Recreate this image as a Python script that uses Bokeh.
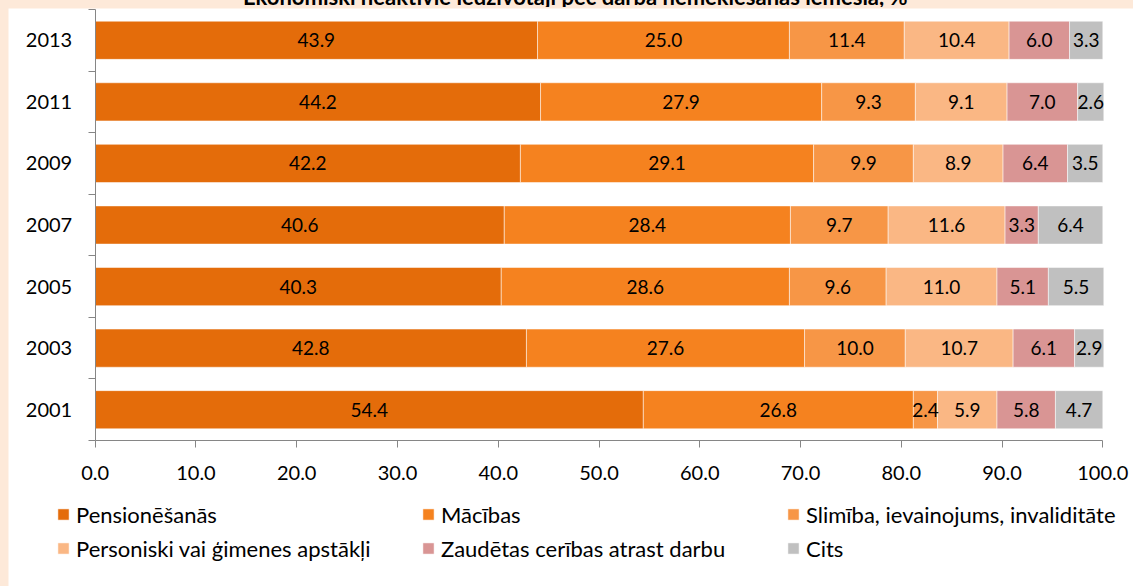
import numpy as np
from bokeh.plotting import figure
from bokeh.models import (ColumnDataSource, FixedTicker, Legend, LegendItem,
                          Range1d)
from bokeh.core.properties import value
from bokeh.embed import file_html
from bokeh.resources import INLINE

# ---- data ----
years = ["2001", "2003", "2005", "2007", "2009", "2011", "2013"]
pension = [54.4, 42.8, 40.3, 40.6, 42.2, 44.2, 43.9]
study = [26.8, 27.6, 28.6, 28.4, 29.1, 27.9, 25.0]
illness = [2.4, 10.0, 9.6, 9.7, 9.9, 9.3, 11.4]
personal = [5.9, 10.7, 11.0, 11.6, 8.9, 9.1, 10.4]
discouraged = [5.8, 6.1, 5.1, 3.3, 6.4, 7.0, 6.0]
other = [4.7, 2.9, 5.5, 6.4, 3.5, 2.6, 3.3]

series_names = ["Pensionēšanās", "Mācības", "Slimība, ievainojums, invaliditāte",
                "Personiski vai ģimenes apstākļi", "Zaudētas cerības atrast darbu", "Cits"]
series_values = [pension, study, illness, personal, discouraged, other]
colors = ["#E46C0A", "#F5821F", "#F79646", "#FAB784", "#D99594", "#C0C0C0"]
x_ticks = [0, 10, 20, 30, 40, 50, 60, 70, 80, 90, 100]
title_text = "Ekonomiski neaktīvie iedzīvotāji pēc darba nemeklēšanas iemesla, %"

FONT = "Lato"
FS_AX = "20px"
FS_BAR = "19px"
FS_LEG = "22px"

W, H = 1125, 578
# frame geometry (figure pixels): value 0..100 spans 86.7..1094.3, rows span 1..432
PX0, PX1 = 86.7, 1094.3
PY_TOP, PY_BOT = 1.0, 432.0
n = len(years)
sx = (PX1 - PX0) / 100.0
sy = (PY_BOT - PY_TOP) / n

ypos = [i + 0.5 for i in range(n)]
keys = [f"s{i}" for i in range(len(series_names))]
data = {"y": ypos, "year": years}
for k, v in zip(keys, series_values):
    data[k] = v
source = ColumnDataSource(data)

p = figure(width=W, height=H, output_backend="svg", toolbar_location=None,
           x_range=Range1d(-PX0 / sx, 100 + (W - PX1) / sx),
           y_range=Range1d(-(H - PY_BOT) / sy, n + PY_TOP / sy),
           min_border=0)
p.background_fill_color = "white"
p.border_fill_color = "white"
p.outline_line_color = None
p.grid.visible = False

renderers = p.hbar_stack(keys, y="y", height=0.62, color=colors, source=source,
                         line_color="white", line_alpha=0.5, line_width=1)

# bar value labels
arr = np.array(series_values)
starts = np.vstack([np.zeros(arr.shape[1]), np.cumsum(arr, axis=0)[:-1]])
mids = starts + arr / 2
lx, ly, lt = [], [], []
for si in range(arr.shape[0]):
    for yi in range(arr.shape[1]):
        lx.append(mids[si, yi])
        ly.append(ypos[yi])
        lt.append(f"{series_values[si][yi]:.1f}")
lsrc = ColumnDataSource(dict(x=lx, y=ly, t=lt))
p.text(x="x", y="y", text="t", source=lsrc, text_align="center",
       text_baseline="middle", text_font=value(FONT), text_font_size=FS_BAR,
       text_color="black")

AX = "#868686"
# x axis
xa = p.xaxis[0]
xa.fixed_location = 0
xa.bounds = (0, 100)
xa.ticker = FixedTicker(ticks=x_ticks)
xa.major_label_overrides = {t: f"{t:.1f}" for t in x_ticks}
xa.axis_line_color = AX
xa.major_tick_line_color = AX
xa.major_tick_out = 7
xa.major_tick_in = 0
xa.minor_tick_line_color = None
xa.major_label_text_font = FONT
xa.major_label_text_font_size = FS_AX
xa.major_label_text_color = "black"
xa.major_label_standoff = 18

# y axis
ya = p.yaxis[0]
ya.fixed_location = 0
ya.bounds = (0, n)
ya.ticker = FixedTicker(ticks=ypos, minor_ticks=list(range(n + 1)))
ya.major_label_overrides = {y: yr for y, yr in zip(ypos, years)}
ya.axis_line_color = AX
ya.major_tick_line_color = None
ya.major_tick_out = 0
ya.major_tick_in = 0
ya.minor_tick_line_color = AX
ya.minor_tick_out = 7
ya.minor_tick_in = 0
ya.major_label_text_font = FONT
ya.major_label_text_font_size = FS_AX
ya.major_label_text_color = "black"
ya.major_label_standoff = 16

legend = Legend(items=[LegendItem(label=nm, renderers=[r]) for nm, r in zip(series_names, renderers)],
                orientation="horizontal", ncols=3, location=(48, 21),
                padding=0, margin=0, spacing=0, glyph_width=14, glyph_height=14,
                label_standoff=6, label_width=345, label_height=34,
                label_text_font=FONT, label_text_font_size=FS_LEG,
                label_text_color="black", border_line_color=None,
                background_fill_alpha=0)
p.add_layout(legend)

html = file_html(p, INLINE)
style = ("<style>html,body{overflow:hidden;} body{background:#FDE9D9;margin:8px 0 0 8px;}</style>")
html = html.replace("</head>", style + "</head>", 1)
title_div = ('<div style="position:absolute;top:0;left:0;width:1133px;height:7px;overflow:hidden;z-index:5;">'
             '<div style="position:absolute;top:-14px;left:243px;white-space:nowrap;'
             'font-family:Lato;font-weight:bold;font-size:22px;line-height:22px;color:black;">'
             + title_text + '</div></div>')
i = html.rfind("</body>")
html = html[:i] + title_div + html[i:]
open("out.html", "w").write(html)
